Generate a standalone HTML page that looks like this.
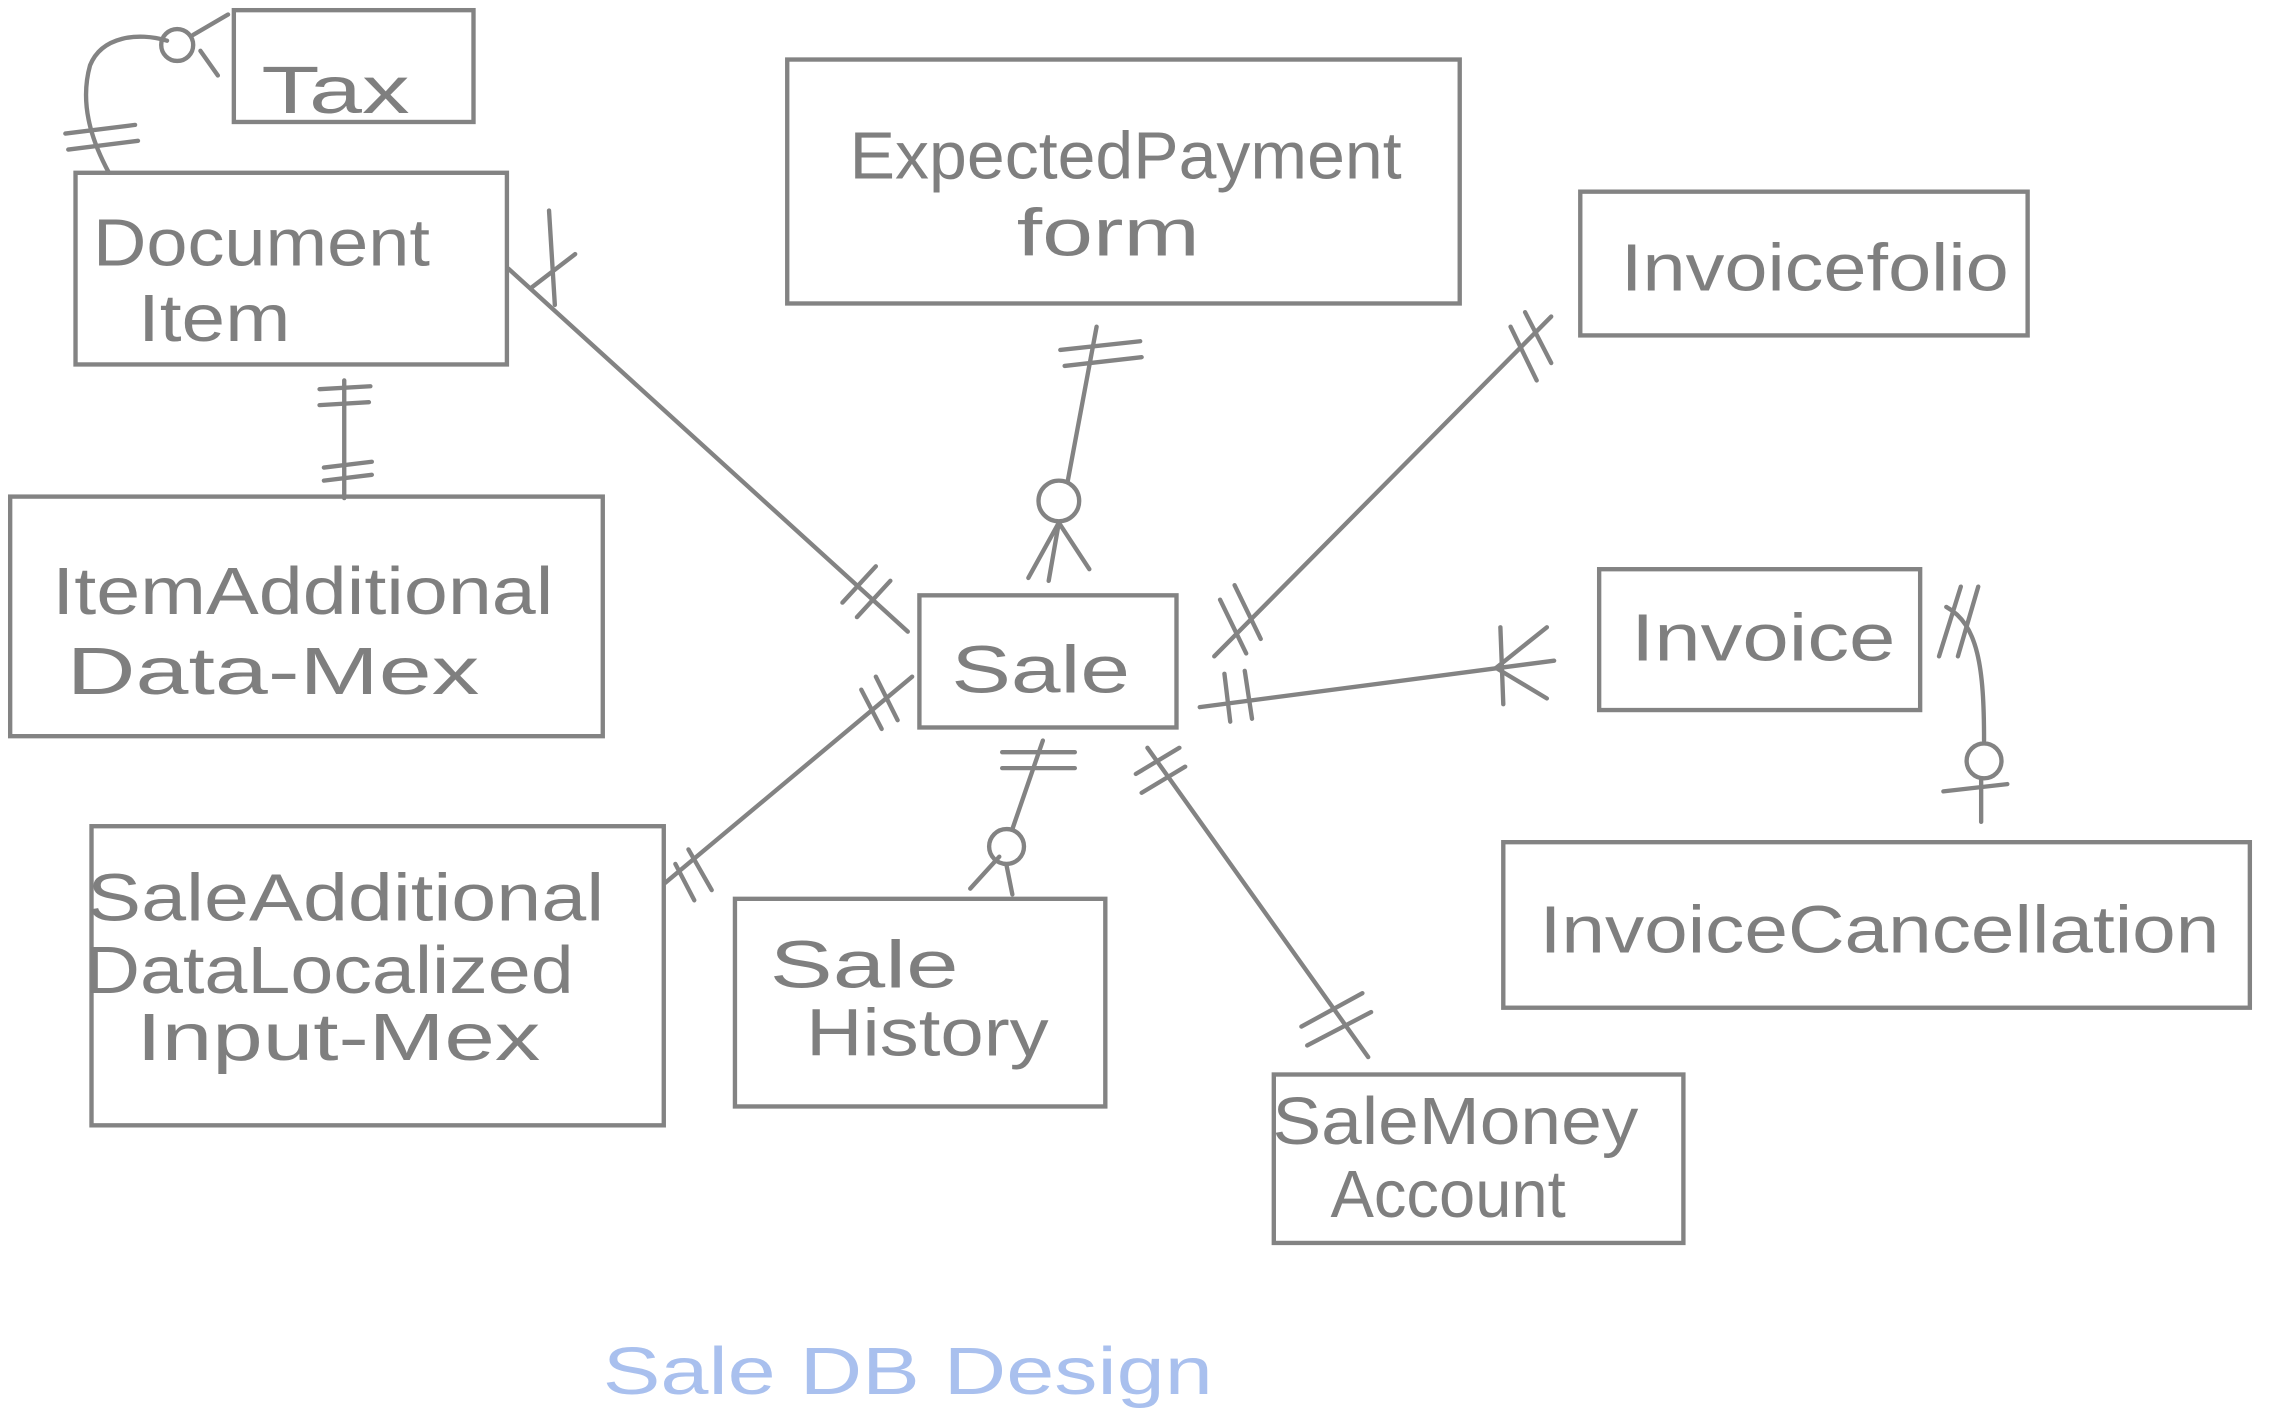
<!DOCTYPE html>
<html><head><meta charset="utf-8"><style>
html,body{margin:0;padding:0;background:#fff;}
svg{display:block;}
text{font-family:"Liberation Sans",sans-serif;fill:#7f7f7f;font-weight:normal;}
</style></head><body>
<svg width="2276" height="1423" viewBox="0 0 1567 980" preserveAspectRatio="none" xmlns="http://www.w3.org/2000/svg">
<g fill="none" stroke="#838383" stroke-width="3" stroke-linecap="round">
<rect x="161" y="7" width="165" height="77"/>
<rect x="52" y="119" width="297" height="132"/>
<rect x="542" y="41" width="463" height="168"/>
<rect x="1088" y="132" width="308" height="99"/>
<rect x="7" y="342" width="408" height="165"/>
<rect x="633" y="410" width="177" height="91"/>
<rect x="1101" y="392" width="221" height="97"/>
<rect x="1035" y="580" width="514" height="114"/>
<rect x="63" y="569" width="394" height="206"/>
<rect x="506" y="619" width="255" height="143"/>
<rect x="877" y="740" width="282" height="116"/>

<path d="M75,119 C62,95 55,70 62,45 C70,25 95,22 115,28"/>
<circle cx="122" cy="31" r="11"/>
<line x1="133" y1="24" x2="157" y2="10"/><line x1="138" y1="35" x2="150" y2="52"/>
<line x1="45" y1="92" x2="93" y2="86"/><line x1="47" y1="103" x2="95" y2="97"/>

<line x1="350" y1="185" x2="625" y2="435"/>
<line x1="378" y1="145" x2="382" y2="210"/>
<line x1="366" y1="198" x2="396" y2="175"/>
<line x1="580" y1="415" x2="603" y2="390"/><line x1="590" y1="425" x2="613" y2="400"/>

<line x1="237" y1="262" x2="237" y2="343"/>
<line x1="220" y1="268" x2="255" y2="266"/><line x1="220" y1="279" x2="254" y2="277"/>
<line x1="223" y1="322" x2="256" y2="318"/><line x1="223" y1="331" x2="256" y2="327"/>

<line x1="755" y1="225" x2="735" y2="332"/>
<line x1="729" y1="360" x2="722" y2="400"/>
<circle cx="729" cy="345" r="14"/>
<line x1="708" y1="398" x2="729" y2="360"/><line x1="750" y1="392" x2="729" y2="360"/>
<line x1="730" y1="241" x2="785" y2="235"/><line x1="733" y1="252" x2="786" y2="246"/>

<line x1="1068" y1="218" x2="836" y2="452"/>
<line x1="1040" y1="225" x2="1058" y2="262"/><line x1="1050" y1="215" x2="1068" y2="250"/>
<line x1="840" y1="413" x2="858" y2="450"/><line x1="850" y1="403" x2="868" y2="440"/>

<line x1="826" y1="487" x2="1070" y2="455"/>
<line x1="1030" y1="460" x2="1065" y2="432"/><line x1="1030" y1="460" x2="1065" y2="481"/>
<line x1="1033" y1="432" x2="1035" y2="485"/>
<line x1="843" y1="464" x2="847" y2="497"/><line x1="857" y1="462" x2="862" y2="495"/>

<path d="M1340,418 C1362,430 1366,460 1366,510"/>
<line x1="1364" y1="537" x2="1364" y2="566"/>
<circle cx="1366" cy="524" r="12"/>
<line x1="1338" y1="545" x2="1382" y2="540"/>
<line x1="1335" y1="452" x2="1350" y2="404"/><line x1="1348" y1="452" x2="1362" y2="404"/>

<line x1="628" y1="466" x2="458" y2="608"/>
<line x1="593" y1="475" x2="607" y2="502"/><line x1="603" y1="466" x2="618" y2="496"/>
<line x1="465" y1="595" x2="478" y2="620"/><line x1="474" y1="585" x2="490" y2="613"/>

<line x1="718" y1="510" x2="697" y2="571"/>
<line x1="693" y1="596" x2="697" y2="616"/>
<circle cx="693" cy="583" r="12"/>
<line x1="668" y1="612" x2="688" y2="590"/>
<line x1="690" y1="518" x2="740" y2="518"/><line x1="690" y1="529" x2="740" y2="529"/>

<line x1="790" y1="515" x2="942" y2="728"/>
<line x1="782" y1="533" x2="812" y2="515"/><line x1="786" y1="546" x2="816" y2="528"/>
<line x1="896" y1="707" x2="938" y2="684"/><line x1="900" y1="720" x2="944" y2="697"/>
</g>

<g font-size="46" lengthAdjust="spacingAndGlyphs">
<text x="180" y="78" textLength="102" lengthAdjust="spacingAndGlyphs">Tax</text>
<text x="64" y="183" textLength="232" lengthAdjust="spacingAndGlyphs">Document</text>
<text x="95" y="235" textLength="105" lengthAdjust="spacingAndGlyphs">Item</text>
<text x="585" y="123" textLength="380" lengthAdjust="spacingAndGlyphs">ExpectedPayment</text>
<text x="700" y="176" textLength="126" lengthAdjust="spacingAndGlyphs">form</text>
<text x="1116" y="200" textLength="267" lengthAdjust="spacingAndGlyphs">Invoicefolio</text>
<text x="36" y="423" textLength="345" lengthAdjust="spacingAndGlyphs">ItemAdditional</text>
<text x="46" y="478" textLength="284" lengthAdjust="spacingAndGlyphs">Data-Mex</text>
<text x="655" y="477" textLength="123" lengthAdjust="spacingAndGlyphs">Sale</text>
<text x="1123" y="455" textLength="182" lengthAdjust="spacingAndGlyphs">Invoice</text>
<text x="1060" y="656" textLength="468" lengthAdjust="spacingAndGlyphs">InvoiceCancellation</text>
<text x="60" y="634" textLength="356" lengthAdjust="spacingAndGlyphs">SaleAdditional</text>
<text x="58" y="684" textLength="337" lengthAdjust="spacingAndGlyphs">DataLocalized</text>
<text x="94" y="730" textLength="278" lengthAdjust="spacingAndGlyphs">Input-Mex</text>
<text x="530" y="680" textLength="130" lengthAdjust="spacingAndGlyphs">Sale</text>
<text x="555" y="727" textLength="167" lengthAdjust="spacingAndGlyphs">History</text>
<text x="876" y="788" textLength="252" lengthAdjust="spacingAndGlyphs">SaleMoney</text>
<text x="916" y="838" textLength="162" lengthAdjust="spacingAndGlyphs">Account</text>
</g>
<text x="415" y="960" font-size="46" textLength="420" lengthAdjust="spacingAndGlyphs" style="fill:#a9c0ee">Sale DB  Design</text>
</svg>
</body></html>
